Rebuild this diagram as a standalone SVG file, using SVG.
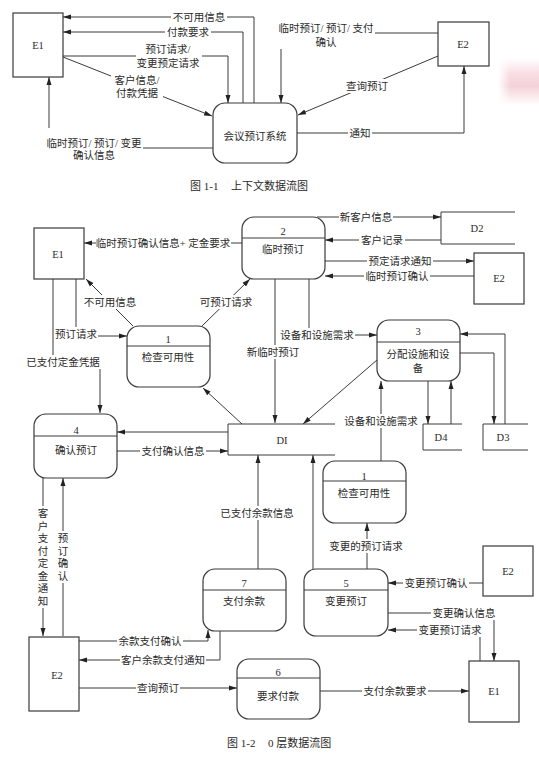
<svg xmlns="http://www.w3.org/2000/svg" width="539" height="759" viewBox="0 0 539 759">
<style>
text{font-family:"Liberation Serif","Noto Sans CJK SC",serif;font-size:10.5px;fill:#2a2a2a;text-anchor:middle}
.cap{font-size:11px;text-anchor:start}
.ln{fill:none;stroke:#3a3a3a;stroke-width:1}
.ar{fill:none;stroke:#3a3a3a;stroke-width:1;marker-end:url(#a)}
.box{fill:#fff;stroke:#3a3a3a;stroke-width:1.2}
.bg{fill:#fff}
</style>
<defs>
<marker id="a" markerUnits="userSpaceOnUse" markerWidth="8" markerHeight="6" refX="8" refY="3" orient="auto"><path d="M0,0.5 L8,3 L0,5.5 z" fill="#222"/></marker>
<linearGradient id="pk" x1="0" y1="0" x2="0" y2="1"><stop offset="0" stop-color="#fff"/><stop offset="0.35" stop-color="#f7dde2"/><stop offset="0.6" stop-color="#f4d2d8"/><stop offset="1" stop-color="#fff"/></linearGradient>
<linearGradient id="pkh" x1="0" y1="0" x2="1" y2="0"><stop offset="0" stop-color="#fff" stop-opacity="1"/><stop offset="0.3" stop-color="#fff" stop-opacity="0"/></linearGradient>
</defs>
<rect x="0" y="0" width="539" height="759" fill="#fff"/>
<rect x="498" y="58" width="41" height="47" fill="url(#pk)"/>
<rect x="498" y="58" width="41" height="47" fill="url(#pkh)"/>

<!-- Figure 1-1 connectors -->
<g id="connectors-1">
<path class="ar" d="M254,103 V17 H63"/>
<path class="ar" d="M243,103 V32 H63"/>
<path class="ar" d="M63,56 H228 V103"/>
<path class="ar" d="M63,57 L212,116"/>
<path class="ln" d="M213,148 H143"/>
<path class="ar" d="M49,128 V77"/>
<path class="ln" d="M438,33 H375"/>
<path class="ar" d="M281,49 V103"/>
<path class="ar" d="M438,56 L298,115"/>
<path class="ar" d="M297,133 H464 V66"/>
<g>
<rect class="bg" x="171" y="10" width="56" height="14"/><text x="199" y="21">不可用信息</text>
<rect class="bg" x="165" y="25" width="46" height="14"/><text x="188" y="36">付款要求</text>
<rect class="bg" x="136" y="42" width="66" height="28"/><text x="168" y="53">预订请求/</text><text x="168" y="67">变更预定请求</text>
<rect class="bg" x="111" y="73" width="52" height="27"/><text x="137" y="84">客户信息/</text><text x="137" y="97">付款凭据</text>
<text x="94" y="147">临时预订/ 预订/ 变更</text><text x="94" y="159">确认信息</text>
<text x="326" y="32">临时预订/ 预订/ 支付</text><text x="326" y="46">确认</text>
<rect class="bg" x="345" y="79" width="44" height="14"/><text x="367" y="90">查询预订</text>
<rect class="bg" x="348" y="126" width="24" height="14"/><text x="360" y="137">通知</text>
</g>
</g>
<g id="n11-E1"><rect class="box" x="13" y="13" width="50" height="64"/><text x="38" y="49">E1</text></g>
<g id="n11-system"><rect class="box" x="213" y="103" width="84" height="60" rx="12"/><text x="255" y="140">会议预订系统</text></g>
<g id="n11-E2"><rect class="box" x="438" y="22" width="51" height="44"/><text x="463" y="48">E2</text></g>
<text class="cap" y="190"><tspan x="190">图 1-1</tspan><tspan x="231">上下文数据流图</tspan></text>

<!-- Figure 1-2 connectors -->
<g id="connectors-2">
<path class="ar" d="M242,243 H84"/>
<path class="ar" d="M317,217 H441"/>
<path class="ar" d="M441,240 H325"/>
<path class="ar" d="M325,261 H474"/>
<path class="ar" d="M474,276 H325"/>
<path class="ar" d="M275,279 V423"/>
<path class="ar" d="M309,279 V335 H377"/>
<path class="ar" d="M133,326 L86,279"/>
<path class="ar" d="M202,326 L250,279"/>
<path class="ar" d="M76,279 V336 H127"/>
<path class="ar" d="M53,279 V362 H100 V413"/>
<path class="ar" d="M460,353 H494 V424"/>
<path class="ar" d="M505,424 V334 H460"/>
<path class="ar" d="M428,381 V424"/>
<path class="ar" d="M451,424 V381"/>
<path class="ar" d="M377,360 L303,424"/>
<path class="ar" d="M242,424 L203,388"/>
<path class="ar" d="M228,432 H117"/>
<path class="ar" d="M117,451 H228"/>
<path class="ar" d="M43,478 V636"/>
<path class="ar" d="M63,636 V478"/>
<path class="ar" d="M79,641 H208 V630"/>
<path class="ar" d="M220,631 V660 H79"/>
<path class="ar" d="M79,688 H237"/>
<path class="ar" d="M258,569 V455"/>
<path class="ar" d="M313,569 V455"/>
<path class="ar" d="M367,569 V523"/>
<path class="ar" d="M381,461 V381"/>
<path class="ar" d="M483,583 H388"/>
<path class="ar" d="M388,613 H494 V661"/>
<path class="ar" d="M480,661 V630 H388"/>
<path class="ar" d="M320,691 H469"/>
<g>
<rect class="bg" x="96" y="236" width="135" height="14"/><text x="163" y="247">临时预订确认信息+ 定金要求</text>
<rect class="bg" x="339" y="210" width="54" height="14"/><text x="366" y="221">新客户信息</text>
<rect class="bg" x="359" y="233" width="46" height="14"/><text x="382" y="244">客户记录</text>
<rect class="bg" x="367" y="254" width="66" height="14"/><text x="400" y="265">预定请求通知</text>
<rect class="bg" x="364" y="269" width="66" height="14"/><text x="397" y="280">临时预订确认</text>
<rect class="bg" x="279" y="328" width="76" height="14"/><text x="317" y="339">设备和设施需求</text>
<rect class="bg" x="246" y="345" width="54" height="14"/><text x="273" y="356">新临时预订</text>
<rect class="bg" x="83" y="295" width="54" height="14"/><text x="110" y="306">不可用信息</text>
<rect class="bg" x="199" y="295" width="54" height="14"/><text x="226" y="306">可预订请求</text>
<rect class="bg" x="54" y="327" width="44" height="14"/><text x="76" y="338">预订请求</text>
<rect class="bg" x="25" y="355" width="76" height="14"/><text x="63" y="366">已支付定金凭据</text>
<rect class="bg" x="343" y="414" width="76" height="14"/><text x="381" y="425">设备和设施需求</text>
<rect class="bg" x="140" y="444" width="66" height="14"/><text x="173" y="455">支付确认信息</text>
<rect class="bg" x="37" y="506" width="12" height="102"/>
<text><tspan x="43" y="517">客</tspan><tspan x="43" y="529.5">户</tspan><tspan x="43" y="542">支</tspan><tspan x="43" y="554.5">付</tspan><tspan x="43" y="567">定</tspan><tspan x="43" y="579.5">金</tspan><tspan x="43" y="592">通</tspan><tspan x="43" y="604.5">知</tspan></text>
<rect class="bg" x="57" y="531" width="12" height="52"/>
<text><tspan x="63" y="542">预</tspan><tspan x="63" y="554.5">订</tspan><tspan x="63" y="567">确</tspan><tspan x="63" y="579.5">认</tspan></text>
<rect class="bg" x="219" y="506" width="76" height="14"/><text x="257" y="517">已支付余款信息</text>
<rect class="bg" x="328" y="539" width="76" height="14"/><text x="366" y="550">变更的预订请求</text>
<rect class="bg" x="117" y="634" width="66" height="14"/><text x="150" y="645">余款支付确认</text>
<rect class="bg" x="120" y="653" width="86" height="14"/><text x="163" y="664">客户余款支付通知</text>
<rect class="bg" x="136" y="681" width="44" height="14"/><text x="158" y="692">查询预订</text>
<rect class="bg" x="403" y="576" width="66" height="14"/><text x="436" y="587">变更预订确认</text>
<rect class="bg" x="431" y="606" width="66" height="14"/><text x="464" y="617">变更确认信息</text>
<rect class="bg" x="417" y="623" width="66" height="14"/><text x="450" y="634">变更预订请求</text>
<rect class="bg" x="362" y="684" width="66" height="14"/><text x="395" y="695">支付余款要求</text>
</g>
</g>

<g id="n12-E1-top"><rect class="box" x="34" y="228" width="50" height="51"/><text x="58" y="258">E1</text></g>
<g id="n12-P2"><rect class="box" x="242" y="217" width="83" height="62" rx="12"/><line class="ln" x1="242" y1="238" x2="325" y2="238"/><text x="283" y="235">2</text><text x="283" y="253">临时预订</text></g>
<g id="n12-D2"><path class="ln" d="M515,212 H441 V244 H515"/><text x="477" y="232">D2</text></g>
<g id="n12-E2-top"><rect class="box" x="474" y="253" width="50" height="51"/><text x="499" y="282">E2</text></g>
<g id="n12-P1-top"><rect class="box" x="127" y="326" width="83" height="61" rx="12"/><line class="ln" x1="127" y1="346" x2="210" y2="346"/><text x="168" y="343">1</text><text x="168" y="361">检查可用性</text></g>
<g id="n12-P3"><rect class="box" x="377" y="320" width="83" height="61" rx="12"/><line class="ln" x1="377" y1="342" x2="460" y2="342"/><text x="418" y="335">3</text><text x="418" y="358">分配设施和设</text><text x="418" y="372">备</text></g>
<g id="n12-D1"><path class="ln" d="M335,424 H228 V455 H335"/><text x="282" y="444">DI</text></g>
<g id="n12-D4"><path class="ln" d="M462,424 H423 V450 H462"/><text x="441" y="441">D4</text></g>
<g id="n12-D3"><path class="ln" d="M528,424 H483 V450 H528"/><text x="503" y="441">D3</text></g>
<g id="n12-P4"><rect class="box" x="34" y="414" width="83" height="64" rx="12"/><line class="ln" x1="34" y1="436" x2="117" y2="436"/><text x="76" y="434">4</text><text x="76" y="454">确认预订</text></g>
<g id="n12-P1-low"><rect class="box" x="323" y="461" width="83" height="62" rx="12"/><line class="ln" x1="323" y1="481" x2="406" y2="481"/><text x="364" y="480">1</text><text x="364" y="497">检查可用性</text></g>
<g id="n12-E2-right"><rect class="box" x="483" y="546" width="50" height="50"/><text x="508" y="575">E2</text></g>
<g id="n12-P7"><rect class="box" x="203" y="569" width="83" height="62" rx="12"/><line class="ln" x1="203" y1="590" x2="286" y2="590"/><text x="244" y="587">7</text><text x="244" y="605">支付余款</text></g>
<g id="n12-P5"><rect class="box" x="304" y="569" width="84" height="67" rx="12"/><line class="ln" x1="304" y1="590" x2="388" y2="590"/><text x="346" y="587">5</text><text x="346" y="605">变更预订</text></g>
<g id="n12-E2-left"><rect class="box" x="29" y="637" width="50" height="74"/><text x="57" y="679">E2</text></g>
<g id="n12-P6"><rect class="box" x="237" y="659" width="83" height="60" rx="12"/><line class="ln" x1="237" y1="678" x2="320" y2="678"/><text x="278" y="676">6</text><text x="278" y="700">要求付款</text></g>
<g id="n12-E1-bottom"><rect class="box" x="469" y="661" width="50" height="61"/><text x="494" y="695">E1</text></g>
<text class="cap" y="747"><tspan x="227">图 1-2</tspan><tspan x="268">0 层数据流图</tspan></text>
</svg>
